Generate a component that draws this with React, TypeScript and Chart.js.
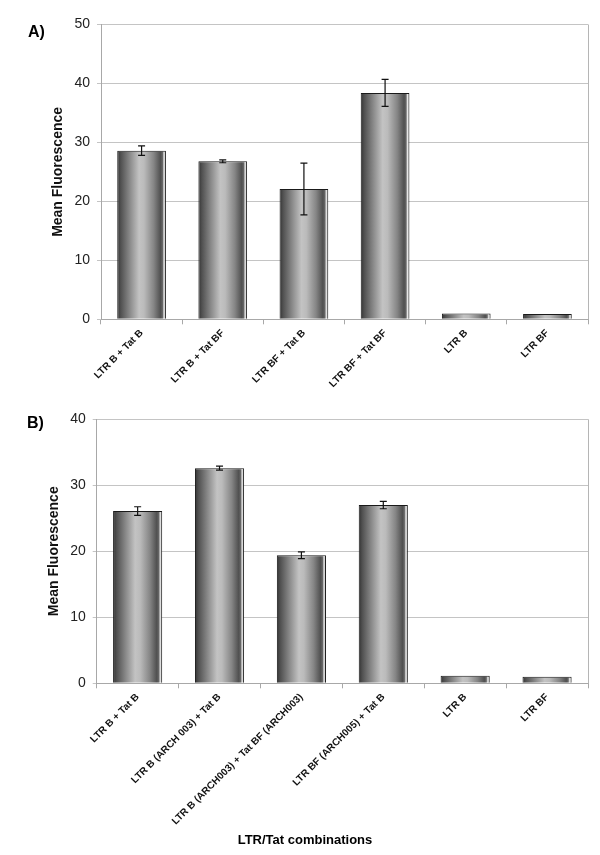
import React, { useEffect, useRef } from 'react';
import { Chart, registerables } from 'chart.js';

Chart.register(...registerables);

// ---------- Data ----------
const labelsA = ['LTR B + Tat B', 'LTR B + Tat BF', 'LTR BF + Tat B', 'LTR BF + Tat BF', 'LTR B', 'LTR BF'];
const meansA = [28.6, 26.8, 22.1, 38.4, 1.0, 0.9];
const errorsA = [0.8, 0.25, 4.4, 2.3, 0, 0];
const yMaxA = 50;

const labelsB = [
  'LTR B + Tat B',
  'LTR B (ARCH 003) + Tat B',
  'LTR B (ARCH003) + Tat BF (ARCH003)',
  'LTR BF (ARCH005) + Tat B',
  'LTR B',
  'LTR BF',
];
const meansB = [26.1, 32.6, 19.4, 27.0, 1.15, 1.0];
const errorsB = [0.65, 0.3, 0.5, 0.55, 0, 0];
const yMaxB = 40;

const yStep = 10;
const yTitle = 'Mean Fluorescence';
const xTitle = 'LTR/Tat combinations';

const FONT = "'Liberation Sans', Arial, sans-serif";
const BAR_PCT = 0.6;

function barFill(ctx: any) {
  const chart = ctx.chart;
  const xs = chart.scales && chart.scales.x;
  if (!xs || !chart.chartArea) return '#999999';
  const n = chart.data.labels.length;
  const c = xs.getPixelForValue(ctx.dataIndex);
  const w = (xs.width / n) * BAR_PCT;
  const g = chart.ctx.createLinearGradient(c - w / 2, 0, c + w / 2, 0);
  g.addColorStop(0, '#333333');
  g.addColorStop(0.07, '#505050');
  g.addColorStop(0.25, '#878787');
  g.addColorStop(0.45, '#c3c3c3');
  g.addColorStop(0.55, '#bbbbbb');
  g.addColorStop(0.75, '#858585');
  g.addColorStop(0.89, '#505050');
  g.addColorStop(0.93, '#666666');
  g.addColorStop(0.96, '#e8e8e8');
  g.addColorStop(1, '#9a9a9a');
  return g;
}

const errorBarPlugin = {
  id: 'errorBars',
  afterDatasetsDraw(chart: any, _args: any, opts: any) {
    const errs: number[] = opts.errors || [];
    const meta = chart.getDatasetMeta(0);
    const ys = chart.scales.y;
    const values = chart.data.datasets[0].data as number[];
    const c = chart.ctx;
    c.save();
    c.strokeStyle = '#111111';
    c.lineWidth = 1.2;
    meta.data.forEach((el: any, i: number) => {
      const e = errs[i];
      if (!e) return;
      const x = el.x;
      const yTop = ys.getPixelForValue(values[i] + e);
      const yBot = ys.getPixelForValue(values[i] - e);
      const cap = 3.5;
      c.beginPath();
      c.moveTo(x, yTop);
      c.lineTo(x, yBot);
      c.moveTo(x - cap, yTop);
      c.lineTo(x + cap, yTop);
      c.moveTo(x - cap, yBot);
      c.lineTo(x + cap, yBot);
      c.stroke();
    });
    c.restore();
  },
};

const rightBorderPlugin = {
  id: 'rightBorder',
  beforeDatasetsDraw(chart: any) {
    const a = chart.chartArea;
    const c = chart.ctx;
    c.save();
    c.strokeStyle = '#b5b5b5';
    c.lineWidth = 1;
    c.beginPath();
    c.moveTo(Math.round(a.right) + 0.5, a.top);
    c.lineTo(Math.round(a.right) + 0.5, a.bottom);
    c.stroke();
    c.restore();
  },
};

type PanelProps = {
  labels: string[];
  means: number[];
  errors: number[];
  yMax: number;
  width: number;
  height: number;
  padTop: number;
  padLeft: number;
  yAxisWidth: number;
  xAxisHeight: number;
};

function Panel(p: PanelProps) {
  const ref = useRef<HTMLCanvasElement | null>(null);
  useEffect(() => {
    if (!ref.current) return;
    const chart = new Chart(ref.current, {
      type: 'bar',
      data: {
        labels: p.labels,
        datasets: [
          {
            data: p.means,
            backgroundColor: barFill,
            borderColor: '#1a1a1a',
            borderWidth: 1,
            barPercentage: BAR_PCT,
            categoryPercentage: 1,
          },
        ],
      },
      options: {
        responsive: false,
        animation: false,
        devicePixelRatio: 1,
        layout: { padding: { top: p.padTop, left: p.padLeft, right: 12, bottom: 0 } },
        plugins: {
          legend: { display: false },
          tooltip: { enabled: false },
          errorBars: { errors: p.errors },
        } as any,
        scales: {
          x: {
            offset: true,
            grid: {
              display: true,
              offset: true,
              drawOnChartArea: false,
              drawTicks: true,
              tickLength: 5,
              color: '#a8a8a8',
            },
            border: { color: '#a8a8a8' },
            ticks: {
              autoSkip: false,
              maxRotation: 45,
              minRotation: 45,
              padding: 3,
              color: '#111111',
              font: { family: FONT, size: 10, weight: 'bold' },
            },
            afterFit: (s: any) => {
              s.height = p.xAxisHeight;
            },
          },
          y: {
            min: 0,
            max: p.yMax,
            ticks: {
              stepSize: yStep,
              padding: 7,
              color: '#222222',
              font: { family: FONT, size: 14 },
            },
            grid: { color: '#c4c4c4', tickLength: 4, drawTicks: true },
            border: { color: '#a8a8a8' },
            title: {
              display: true,
              text: yTitle,
              color: '#111111',
              padding: 0,
              font: { family: FONT, size: 14, weight: 'bold' },
            },
            afterFit: (s: any) => {
              s.width = p.yAxisWidth;
            },
          },
        },
      } as any,
      plugins: [errorBarPlugin, rightBorderPlugin],
    });
    return () => chart.destroy();
  }, []);
  return <canvas ref={ref} width={p.width} height={p.height} style={{ display: 'block' }} />;
}

export default function App() {
  return (
    <div style={{ position: 'absolute', left: 0, top: 0, width: 600, height: 855, background: '#fff', fontFamily: FONT }}>
      <div style={{ position: 'absolute', left: 0, top: 0 }}>
        <Panel
          labels={labelsA}
          means={meansA}
          errors={errorsA}
          yMax={yMaxA}
          width={600}
          height={400}
          padTop={24.5}
          padLeft={49.6}
          yAxisWidth={51.4}
          xAxisHeight={80.7}
        />
      </div>
      <div style={{ position: 'absolute', left: 0, top: 400 }}>
        <Panel
          labels={labelsB}
          means={meansB}
          errors={errorsB}
          yMax={yMaxB}
          width={600}
          height={455}
          padTop={19.3}
          padLeft={45.6}
          yAxisWidth={51.1}
          xAxisHeight={171.7}
        />
      </div>
      <div style={{ position: 'absolute', left: 28, top: 23, fontSize: 16, fontWeight: 'bold', lineHeight: '18px' }}>A)</div>
      <div style={{ position: 'absolute', left: 27, top: 414, fontSize: 16, fontWeight: 'bold', lineHeight: '18px' }}>B)</div>
      <div
        style={{
          position: 'absolute',
          left: 205,
          width: 200,
          top: 832,
          textAlign: 'center',
          fontSize: 13,
          fontWeight: 'bold',
          lineHeight: '16px',
        }}
      >
        {xTitle}
      </div>
    </div>
  );
}
